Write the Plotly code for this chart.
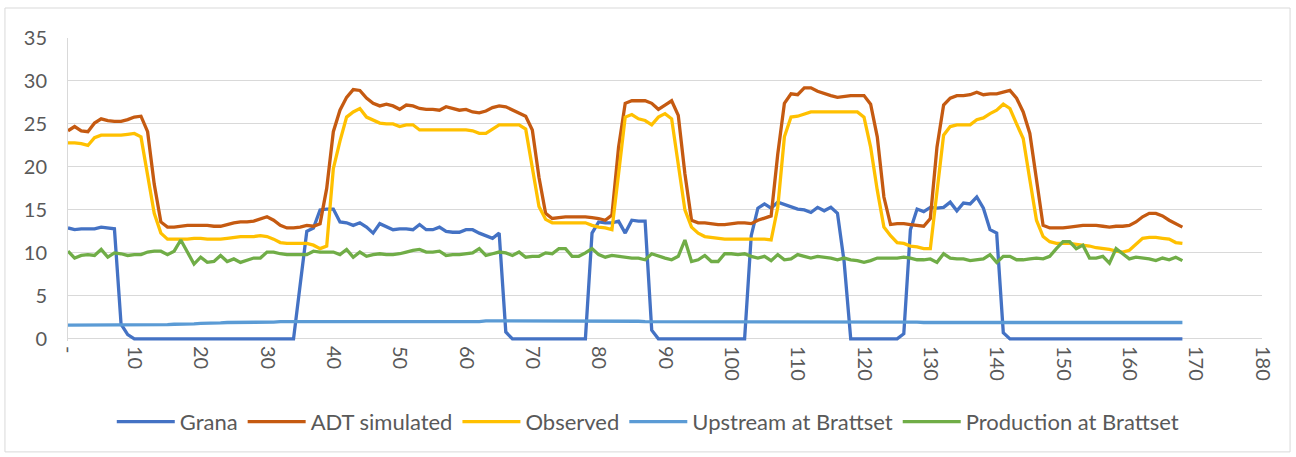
import plotly.graph_objects as go

hours = list(range(169))

grana = [12.9, 12.7, 12.8, 12.8, 12.8, 13.0, 12.9, 12.8, 1.7, 0.5,
         0, 0, 0, 0, 0, 0, 0, 0, 0, 0,
         0, 0, 0, 0, 0, 0, 0, 0, 0, 0,
         0, 0, 0, 0, 0, 6.3, 12.5, 12.9, 15.0, 15.1,
         15.1, 13.6, 13.5, 13.2, 13.5, 13.0, 12.3, 13.4, 13.0, 12.7,
         12.8, 12.8, 12.7, 13.3, 12.7, 12.7, 13.0, 12.5, 12.4, 12.4,
         12.7, 12.7, 12.3, 12.0, 11.7, 12.3, 0.8, 0, 0, 0,
         0, 0, 0, 0, 0, 0, 0, 0, 0, 12.3,
         13.6, 13.5, 13.5, 13.7, 12.3, 13.8, 13.7, 13.7, 1.0, 0,
         0, 0, 0, 0, 0, 0, 0, 0, 0, 0,
         0, 0, 0, 12.0, 15.2, 15.7, 15.2, 15.9, 15.6, 15.3,
         15.1, 15.0, 14.7, 15.3, 14.9, 15.3, 14.6, 9.0, 0, 0,
         0, 0, 0, 0, 0, 0, 0.6, 12.7, 15.1, 14.8,
         15.3, 15.2, 15.3, 15.9, 14.9, 15.8, 15.7, 16.5, 15.2, 12.7,
         12.3, 0.7, 0, 0, 0, 0, 0, 0, 0, 0,
         0, 0, 0, 0, 0, 0, 0, 0, 0, 0,
         0, 0, 0, 0, 0, 0, 0, 0, 0]

adt_simulated = [24.2, 24.7, 24.2, 24.1, 25.1, 25.6, 25.4, 25.3, 25.3, 25.5,
                 25.8, 25.9, 24.1, 18.0, 13.6, 13.0, 13.0, 13.1, 13.2, 13.2,
                 13.2, 13.2, 13.1, 13.1, 13.3, 13.5, 13.6, 13.6, 13.7, 14.0,
                 14.2, 13.8, 13.2, 12.9, 12.9, 13.0, 13.2, 13.1, 13.4, 17.5,
                 24.1, 26.6, 28.1, 29.0, 28.9, 28.0, 27.4, 27.1, 27.3, 27.1,
                 26.7, 27.2, 27.1, 26.8, 26.7, 26.7, 26.6, 27.0, 26.8, 26.6,
                 26.7, 26.4, 26.3, 26.5, 26.9, 27.1, 27.0, 26.6, 26.2, 25.9,
                 24.3, 18.8, 14.6, 14.0, 14.1, 14.2, 14.2, 14.2, 14.2, 14.1,
                 14.0, 13.8, 14.4, 22.3, 27.4, 27.7, 27.7, 27.7, 27.4, 26.7,
                 27.2, 27.7, 26.0, 19.2, 13.8, 13.5, 13.5, 13.4, 13.3, 13.3,
                 13.4, 13.5, 13.5, 13.4, 13.8, 14.1, 14.3, 21.5, 27.4, 28.5,
                 28.4, 29.2, 29.2, 28.8, 28.5, 28.3, 28.1, 28.2, 28.3, 28.3,
                 28.3, 27.3, 23.5, 16.5, 13.3, 13.4, 13.4, 13.3, 13.2, 13.1,
                 14.0, 22.3, 27.2, 28.0, 28.3, 28.3, 28.4, 28.7, 28.4, 28.5,
                 28.5, 28.7, 28.9, 28.0, 26.4, 23.9, 18.5, 13.2, 12.9, 12.9,
                 12.9, 13.0, 13.1, 13.2, 13.2, 13.2, 13.1, 13.0, 13.1, 13.1,
                 13.2, 13.6, 14.2, 14.6, 14.6, 14.3, 13.8, 13.4, 13.0]

observed = [22.8, 22.8, 22.7, 22.5, 23.4, 23.7, 23.7, 23.7, 23.7, 23.8,
            23.9, 23.5, 19.2, 14.6, 12.3, 11.6, 11.6, 11.6, 11.6, 11.7,
            11.7, 11.6, 11.6, 11.6, 11.7, 11.8, 11.9, 11.9, 11.9, 12.0,
            11.9, 11.6, 11.2, 11.1, 11.1, 11.1, 11.1, 10.9, 10.5, 10.8,
            19.8, 23.0, 25.8, 26.4, 26.8, 25.8, 25.4, 25.1, 25.0, 25.0,
            24.7, 24.9, 24.9, 24.3, 24.3, 24.3, 24.3, 24.3, 24.3, 24.3,
            24.3, 24.2, 23.9, 23.9, 24.4, 24.9, 24.9, 24.9, 24.9, 24.4,
            19.8, 15.4, 13.9, 13.5, 13.5, 13.5, 13.5, 13.5, 13.5, 13.2,
            13.0, 12.9, 12.7, 19.2, 25.8, 26.1, 25.6, 25.4, 24.9, 25.8,
            26.2, 25.6, 20.0, 15.0, 13.0, 12.3, 11.9, 11.8, 11.7, 11.6,
            11.6, 11.6, 11.6, 11.6, 11.6, 11.6, 11.5, 15.3, 23.5, 25.8,
            25.9, 26.2, 26.4, 26.4, 26.4, 26.4, 26.4, 26.4, 26.4, 26.4,
            25.8, 22.3, 17.3, 13.0, 12.0, 11.2, 11.1, 10.8, 10.7, 10.5,
            10.5, 17.3, 23.7, 24.7, 24.9, 24.9, 24.9, 25.5, 25.7, 26.2,
            26.6, 27.3, 26.8, 25.0, 23.3, 18.5, 13.8, 11.9, 11.3, 11.1,
            11.1, 11.1, 11.0, 10.9, 10.8, 10.6, 10.5, 10.4, 10.2, 10.1,
            10.3, 11.0, 11.7, 11.8, 11.8, 11.7, 11.6, 11.2, 11.1]

upstream = [1.6, 1.6, 1.6, 1.6, 1.6, 1.6, 1.6, 1.6, 1.6, 1.6,
            1.6, 1.6, 1.6, 1.6, 1.65, 1.65, 1.7, 1.7, 1.75, 1.75,
            1.8, 1.8, 1.85, 1.85, 1.9, 1.9, 1.9, 1.9, 1.95, 1.95,
            1.95, 1.95, 2.0, 2.0, 2.0, 2.0, 2.0, 2.0, 2.0, 2.0,
            2.0, 2.0, 2.0, 2.0, 2.0, 2.0, 2.0, 2.0, 2.0, 2.0,
            2.0, 2.0, 2.0, 2.0, 2.0, 2.0, 2.0, 2.0, 2.0, 2.0,
            2.0, 2.0, 2.0, 2.1, 2.1, 2.1, 2.1, 2.1, 2.1, 2.1,
            2.1, 2.1, 2.1, 2.1, 2.1, 2.1, 2.1, 2.1, 2.1, 2.1,
            2.1, 2.05, 2.05, 2.05, 2.05, 2.05, 2.05, 2.0, 2.0, 2.0,
            2.0, 2.0, 1.95, 1.95, 1.95, 1.95, 1.95, 1.95, 1.95, 1.95,
            1.95, 1.95, 1.95, 1.95, 1.95, 1.95, 1.95, 1.95, 1.95, 1.95,
            1.95, 1.95, 1.95, 1.95, 1.95, 1.95, 1.95, 1.95, 1.95, 1.95,
            1.95, 1.95, 1.95, 1.95, 1.95, 1.95, 1.95, 1.95, 1.95, 1.9,
            1.9, 1.9, 1.9, 1.9, 1.9, 1.9, 1.9, 1.9, 1.9, 1.9,
            1.9, 1.9, 1.9, 1.9, 1.9, 1.9, 1.9, 1.9, 1.9, 1.9,
            1.9, 1.9, 1.9, 1.9, 1.9, 1.9, 1.9, 1.9, 1.9, 1.9,
            1.9, 1.9, 1.9, 1.9, 1.9, 1.9, 1.9, 1.9, 1.9]

production = [10.2, 9.4, 9.7, 9.8, 9.7, 10.4, 9.5, 10.0, 9.9, 9.7,
              9.8, 9.8, 10.1, 10.2, 10.2, 9.8, 10.2, 11.5, 10.1, 8.7,
              9.5, 8.9, 9.0, 9.7, 9.0, 9.3, 8.9, 9.2, 9.4, 9.4,
              10.1, 10.1, 9.9, 9.8, 9.8, 9.8, 9.8, 10.2, 10.1, 10.1,
              10.1, 9.8, 10.4, 9.5, 10.1, 9.6, 9.8, 9.9, 9.8, 9.8,
              9.9, 10.1, 10.3, 10.4, 10.1, 10.1, 10.2, 9.7, 9.8, 9.8,
              9.9, 10.0, 10.5, 9.7, 9.9, 10.1, 10.0, 9.7, 10.1, 9.5,
              9.6, 9.6, 10.0, 9.9, 10.5, 10.5, 9.6, 9.6, 10.0, 10.5,
              9.8, 9.5, 9.7, 9.6, 9.5, 9.4, 9.4, 9.2, 9.9, 9.6,
              9.4, 9.2, 9.6, 11.5, 9.0, 9.2, 9.7, 9.0, 9.0, 9.9,
              9.9, 9.8, 9.9, 9.6, 9.4, 9.6, 9.1, 9.8, 9.2, 9.3,
              9.8, 9.6, 9.4, 9.6, 9.5, 9.4, 9.2, 9.4, 9.2, 9.1,
              8.9, 9.1, 9.4, 9.4, 9.4, 9.4, 9.5, 9.4, 9.2, 9.2,
              9.3, 8.9, 9.9, 9.4, 9.3, 9.3, 9.1, 9.2, 9.3, 9.8,
              8.9, 9.6, 9.6, 9.2, 9.2, 9.3, 9.4, 9.3, 9.6, 10.5,
              11.3, 11.3, 10.5, 10.9, 9.4, 9.4, 9.6, 8.8, 10.5, 9.9,
              9.3, 9.5, 9.4, 9.3, 9.1, 9.4, 9.2, 9.5, 9.1]

x_tickvals = [0, 10, 20, 30, 40, 50, 60, 70, 80, 90, 100, 110, 120, 130, 140, 150, 160, 170, 180]
x_ticktext = ['-', '10', '20', '30', '40', '50', '60', '70', '80', '90', '100', '110', '120',
              '130', '140', '150', '160', '170', '180']

series = [('Grana', grana, '#4472C4'),
          ('ADT simulated', adt_simulated, '#C55A11'),
          ('Observed', observed, '#FFC000'),
          ('Upstream at Brattset', upstream, '#5B9BD5'),
          ('Production at Brattset', production, '#70AD47')]

fig = go.Figure()
for name, vals, color in series:
    fig.add_trace(go.Scatter(x=hours, y=vals, mode='lines', name=name,
                             line=dict(color=color, width=3.3)))

fig.update_layout(
    width=1296, height=457,
    margin=dict(l=68, r=34, t=38, b=116),
    paper_bgcolor='white', plot_bgcolor='white',
    font=dict(family='Lato', color='#595959', size=20),
    showlegend=True,
    legend=dict(orientation='h', x=0.486, xanchor='center', y=-0.267, yanchor='middle',
                font=dict(size=22, color='#595959'), itemwidth=58),
    shapes=[dict(type='rect', xref='paper', yref='paper', x0=-0.0528, x1=1.0235,
                 y0=-0.366, y1=1.099, line=dict(color='#d9d9d9', width=1), layer='below')],
)

fig.update_xaxes(range=[0, 180], tickvals=x_tickvals, ticktext=x_ticktext, tickangle=90,
                 showgrid=False, zeroline=False, showline=False, ticks='',
                 ticklabelstandoff=4, tickfont=dict(size=20, color='#595959'))
fig.update_yaxes(range=[-0.25, 35], tick0=0, dtick=5, showgrid=True, gridcolor='#d9d9d9', gridwidth=1,
                 zeroline=True, zerolinecolor='#d9d9d9', zerolinewidth=1,
                 showline=True, linecolor='#d9d9d9', linewidth=1,
                 ticks='', ticklabelstandoff=16, tickfont=dict(size=20, color='#595959'))

# the page body has an 8px default margin; drop it so the chart sits at the window origin
fig.write_html("out.html", config={'displayModeBar': False},
               post_script="document.body.style.margin = '0px';")
